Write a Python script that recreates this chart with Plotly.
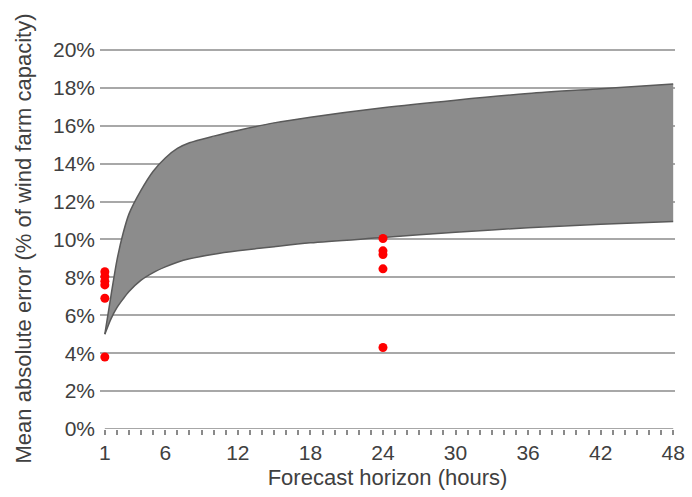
import plotly.graph_objects as go

# Band (range of forecast errors)
band_hours = [1, 1.5, 2, 2.5, 3, 4, 5, 6, 7, 8, 10, 12, 15, 18, 24, 30, 36, 42, 48]
band_upper = [5.0, 7.0, 8.9, 10.3, 11.35, 12.6, 13.6, 14.3, 14.8, 15.1, 15.45, 15.75, 16.15, 16.45, 16.95, 17.35, 17.7, 17.95, 18.2]
band_lower = [5.0, 5.8, 6.4, 6.85, 7.25, 7.85, 8.25, 8.55, 8.8, 8.98, 9.22, 9.4, 9.62, 9.82, 10.1, 10.38, 10.62, 10.8, 10.95]

# Observed points
pts_hours = [1, 1, 1, 1, 1, 1, 24, 24, 24, 24, 24]
pts_values = [8.3, 8.05, 7.8, 7.6, 6.9, 3.8, 10.05, 9.4, 9.2, 8.45, 4.3]

x_tickvals = [1, 6, 12, 18, 24, 30, 36, 42, 48]
y_tickvals = [0, 2, 4, 6, 8, 10, 12, 14, 16, 18, 20]
y_ticktext = [f"{v}%" for v in y_tickvals]

FONT = "Liberation Sans, Arial, sans-serif"
TXT = "#404040"

fig = go.Figure()
fig.add_trace(go.Scatter(
    x=band_hours, y=band_lower, mode="lines",
    line=dict(color="#5a5a5a", width=1.5, shape="spline", smoothing=0.8),
    hoverinfo="skip", showlegend=False))
fig.add_trace(go.Scatter(
    x=band_hours, y=band_upper, mode="lines", fill="tonexty",
    fillcolor="#8c8c8c",
    line=dict(color="#5a5a5a", width=1.5, shape="spline", smoothing=0.8),
    hoverinfo="skip", showlegend=False))
fig.add_trace(go.Scatter(
    x=pts_hours, y=pts_values, mode="markers",
    marker=dict(color="#ff0000", size=9, line=dict(width=0)),
    showlegend=False))

fig.update_layout(
    width=692, height=497,
    margin=dict(l=100, r=17, t=48, b=68),
    paper_bgcolor="white", plot_bgcolor="white",
    font=dict(family=FONT, color=TXT, size=21),
    xaxis=dict(
        range=[0.6, 48.15], automargin=False,
        tickvals=x_tickvals,
        ticks="outside", ticklen=5, tickwidth=1.5, tickcolor="#8a8a8a",
        minor=dict(dtick=1, tick0=1, ticks="outside", ticklen=5, tickwidth=1.5, tickcolor="#8a8a8a", showgrid=False),
        showgrid=False, zeroline=False, showline=False,
        tickfont=dict(size=21, color=TXT),
        title=dict(text="Forecast horizon (hours)", font=dict(size=22, color=TXT), standoff=6),
    ),
    yaxis=dict(
        range=[0, 20.1], automargin=False,
        tickvals=y_tickvals, ticktext=y_ticktext,
        showgrid=True, gridcolor="#a8a8a8", gridwidth=2,
        zeroline=False, showline=False, ticks="",
        tickfont=dict(size=21, color=TXT),
        ticklabelstandoff=4,
        title=dict(text="Mean absolute error (% of wind farm capacity)", font=dict(size=22, color=TXT), standoff=15),
    ),
)

# x axis baseline from hour 1 to 48
fig.add_shape(type="line", xref="x", yref="y", x0=1, x1=48, y0=0, y1=0,
              line=dict(color="#8a8a8a", width=1.5), layer="above")

fig.write_html("out.html", config={"displayModeBar": False},
               post_script="document.body.style.margin='0';document.body.style.overflow='hidden';")
